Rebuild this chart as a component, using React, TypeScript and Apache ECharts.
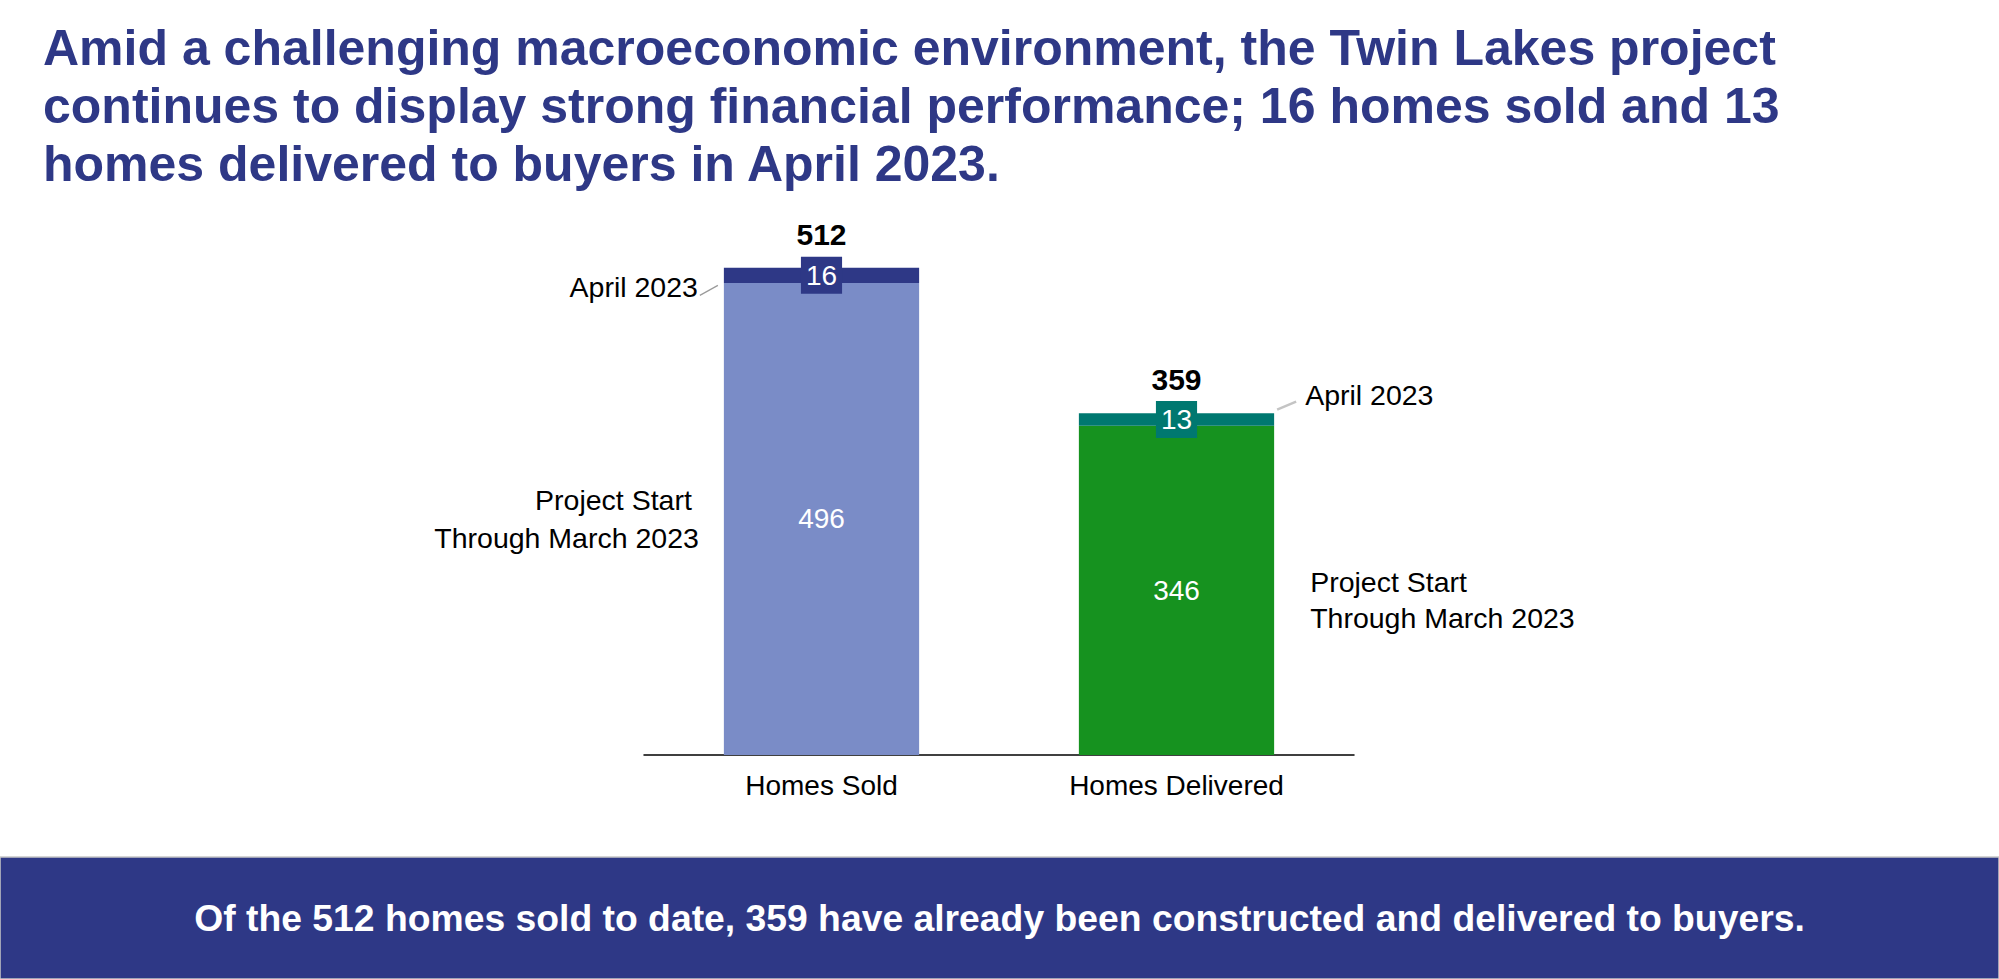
import React, { useEffect, useRef } from "react";
import * as echarts from "echarts";

const categories = ["Homes Sold", "Homes Delivered"];
const throughMarch = [496, 346];
const april2023 = [16, 13];
const baseColors = ["#7A8CC7", "#16921F"];
const topColors = ["#2E3886", "#007870"];
const periodNames = ["Project Start\nThrough March 2023", "April 2023"];
const titleText =
  "Amid a challenging macroeconomic environment, the Twin Lakes project\ncontinues to display strong financial performance; 16 homes sold and 13\nhomes delivered to buyers in April 2023.";
const bannerText =
  "Of the 512 homes sold to date, 359 have already been constructed and delivered to buyers.";

const FONT = "'Liberation Sans', Arial, Helvetica, sans-serif";
const NAVY = "#2E3886";

export default function App() {
  const ref = useRef<HTMLDivElement>(null);

  useEffect(() => {
    if (!ref.current) return;
    const chart = echarts.init(ref.current, null, { renderer: "svg" });
    const totals = throughMarch.map((v, i) => v + april2023[i]);

    chart.setOption({
      animation: false,
      title: {
        text: titleText,
        left: 38,
        top: 14,
        textStyle: {
          fontFamily: FONT,
          fontSize: 50,
          fontWeight: "bold",
          color: NAVY,
          lineHeight: 58,
        },
      },
      grid: { left: 644, right: 645, top: 184, bottom: 224 },
      xAxis: {
        type: "category",
        data: categories,
        axisLine: { lineStyle: { color: "#000000", width: 1.5 } },
        axisTick: { show: false },
        axisLabel: { fontFamily: FONT, fontSize: 28, color: "#000000", margin: 16 },
      },
      yAxis: {
        type: "value",
        min: 0,
        max: 600,
        show: false,
        splitLine: { show: false },
      },
      series: [
        {
          name: periodNames[0],
          type: "bar",
          stack: "total",
          barWidth: "55%",
          data: throughMarch.map((v, i) => ({
            value: v,
            itemStyle: { color: baseColors[i] },
          })),
          label: {
            show: true,
            position: "inside",
            color: "#FFFFFF",
            fontFamily: FONT,
            fontSize: 28,
          },
        },
        {
          name: periodNames[1],
          type: "bar",
          stack: "total",
          barWidth: "55%",
          data: april2023.map((v, i) => ({
            value: v,
            itemStyle: { color: topColors[i] },
            label: { backgroundColor: topColors[i] },
          })),
          label: {
            show: true,
            position: "inside",
            color: "#FFFFFF",
            fontFamily: FONT,
            fontSize: 28,
            padding: [6, 5, 3, 5],
          },
        },
        {
          name: "Total",
          type: "line",
          data: totals,
          symbol: "circle",
          symbolSize: 1,
          itemStyle: { color: "rgba(0,0,0,0)" },
          lineStyle: { width: 0, opacity: 0 },
          label: {
            show: true,
            position: "top",
            distance: 18,
            color: "#000000",
            fontFamily: FONT,
            fontSize: 30,
            fontWeight: "bold",
          },
        },
      ],
    });

    const px = (i: number, v: number) =>
      chart.convertToPixel({ xAxisIndex: 0, yAxisIndex: 0 }, [i, v]) as number[];
    const catW = px(1, 0)[0] - px(0, 0)[0];
    const half = (catW * 0.55) / 2;

    const left0 = px(0, 0)[0] - half;
    const base0 = px(0, throughMarch[0] / 2)[1];
    const top0 = px(0, throughMarch[0] + april2023[0] / 2)[1];
    const right1 = px(1, 0)[0] + half;
    const base1 = px(1, throughMarch[1] / 2)[1];
    const top1 = px(1, throughMarch[1] + april2023[1] / 2)[1];

    const textEl = (text: string, x: number, y: number, align: string, lh: number) => ({
      type: "text",
      x,
      y,
      style: {
        text,
        fill: "#000000",
        fontFamily: FONT,
        fontSize: 28.5,
        align,
        verticalAlign: "middle",
        lineHeight: lh,
      },
    });
    const [startLine, throughLine] = periodNames[0].split("\n");

    chart.setOption({
      graphic: [
        textEl(periodNames[1], left0 - 26, top0 + 12, "right", 34),
        {
          type: "line",
          shape: { x1: left0 - 24, y1: top0 + 20, x2: left0 - 6, y2: top0 + 10 },
          style: { stroke: "#9A9A9A", lineWidth: 1.2 },
        },
        textEl(startLine, left0 - 32, base0 - 19, "right", 38),
        textEl(throughLine, left0 - 25, base0 + 19, "right", 38),
        {
          type: "line",
          shape: { x1: right1 + 3, y1: top1 - 10, x2: right1 + 22, y2: top1 - 18 },
          style: { stroke: "#C4C4C4", lineWidth: 2.5 },
        },
        textEl(periodNames[1], right1 + 31, top1 - 25, "left", 34),
        textEl(periodNames[0], right1 + 36, base1 + 10, "left", 36),
        {
          type: "rect",
          shape: { x: 0, y: 857, width: 1999, height: 122 },
          style: { fill: NAVY, stroke: "#C8C8C8", lineWidth: 1.5 },
        },
        {
          type: "text",
          x: 999.5,
          y: 918,
          style: {
            text: bannerText,
            fill: "#FFFFFF",
            fontFamily: FONT,
            fontSize: 37.3,
            fontWeight: "bold",
            align: "center",
            verticalAlign: "middle",
          },
        },
      ],
    });

    return () => chart.dispose();
  }, []);

  return (
    <div
      ref={ref}
      style={{ position: "fixed", left: 0, top: 0, width: 1999, height: 979, background: "#FFFFFF" }}
    />
  );
}
